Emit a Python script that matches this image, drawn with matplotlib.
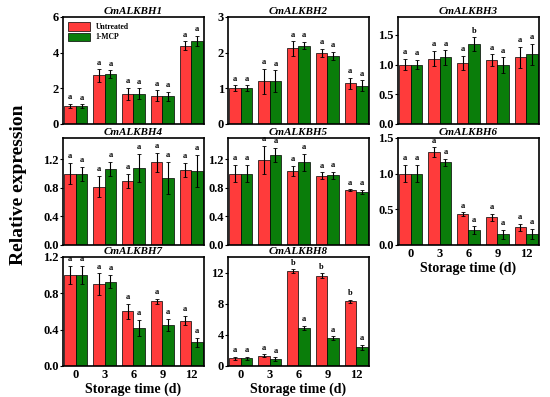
import numpy as np
import matplotlib
matplotlib.use("Agg")
import matplotlib.pyplot as plt

plt.rcParams['font.family'] = ['Liberation Serif', 'DejaVu Serif']
plt.rcParams['font.weight'] = 'bold'

# データ
days = ["0", "3", "6", "9", "12"]
genes = ["CmALKBH1", "CmALKBH2", "CmALKBH3", "CmALKBH4", "CmALKBH5",
         "CmALKBH6", "CmALKBH7", "CmALKBH8"]

untreated = [
    [1.0, 2.72, 1.68, 1.58, 4.38],
    [1.0, 1.20, 2.12, 1.99, 1.14],
    [1.0, 1.10, 1.03, 1.07, 1.12],
    [1.0, 0.82, 0.90, 1.16, 1.05],
    [1.0, 1.19, 1.04, 0.97, 0.77],
    [1.0, 1.30, 0.43, 0.39, 0.25],
    [1.0, 0.90, 0.60, 0.71, 0.50],
    [1.0, 1.30, 12.2, 11.6, 8.30],
]
mcp = [
    [1.0, 2.80, 1.70, 1.55, 4.65],
    [1.0, 1.20, 2.20, 1.91, 1.07],
    [1.0, 1.12, 1.34, 0.99, 1.17],
    [1.0, 1.07, 1.08, 0.94, 1.04],
    [1.0, 1.26, 1.16, 0.98, 0.74],
    [1.0, 1.16, 0.21, 0.15, 0.16],
    [1.0, 0.93, 0.42, 0.45, 0.26],
    [1.0, 0.90, 4.90, 3.60, 2.40],
]
untreated_err = [
    [0.12, 0.35, 0.35, 0.30, 0.25],
    [0.08, 0.35, 0.20, 0.12, 0.15],
    [0.10, 0.13, 0.12, 0.10, 0.18],
    [0.15, 0.15, 0.10, 0.13, 0.10],
    [0.12, 0.20, 0.07, 0.05, 0.01],
    [0.12, 0.07, 0.03, 0.05, 0.05],
    [0.10, 0.12, 0.08, 0.03, 0.05],
    [0.20, 0.20, 0.20, 0.30, 0.20],
]
mcp_err = [
    [0.10, 0.20, 0.30, 0.25, 0.30],
    [0.08, 0.30, 0.10, 0.12, 0.15],
    [0.08, 0.12, 0.12, 0.13, 0.18],
    [0.10, 0.10, 0.20, 0.23, 0.22],
    [0.12, 0.10, 0.12, 0.05, 0.03],
    [0.12, 0.05, 0.05, 0.06, 0.07],
    [0.10, 0.07, 0.09, 0.07, 0.05],
    [0.20, 0.20, 0.25, 0.20, 0.30],
]
untreated_letters = [list("aaaaa")] * 7 + [list("aabbb")]
mcp_letters = [list("aaaaa")] * 2 + [list("aabaa")] + [list("aaaaa")] * 5

ylims = [6, 3, 1.8, 1.5, 1.5, 1.5, 1.2, 14]
yticks = [
    [0, 2, 4, 6],
    [0, 1, 2, 3],
    [0.0, 0.5, 1.0, 1.5],
    [0.0, 0.4, 0.8, 1.2],
    [0.0, 0.4, 0.8, 1.2],
    [0.0, 0.5, 1.0, 1.5],
    [0.0, 0.4, 0.8, 1.2],
    [0, 4, 8, 12],
]
ytick_fmt = ["{:.0f}", "{:.0f}", "{:.1f}", "{:.1f}", "{:.1f}", "{:.1f}", "{:.1f}", "{:.0f}"]

red = "#FF3B3B"
green = "#0A7D0A"

# 図のレイアウト
fig = plt.figure(figsize=(5.5, 3.97), dpi=100)
col_left = [0.1145, 0.4145, 0.7236]
row_bottom = [0.6877, 0.3829, 0.0781]
row_height = [0.2695, 0.2695, 0.2746]
w = 0.2564
positions = [(0, 0), (0, 1), (0, 2), (1, 0), (1, 1), (1, 2), (2, 0), (2, 1)]
bottom_panels = [5, 6, 7]

x = np.arange(len(days))
bw = 0.4
for k, (r, c) in enumerate(positions):
    ax = fig.add_axes([col_left[c], row_bottom[r], w, row_height[r]])
    ax.bar(x - bw / 2, untreated[k], bw, yerr=untreated_err[k], color=red,
           edgecolor="black", linewidth=0.5, error_kw=dict(elinewidth=0.8, capsize=1.2, capthick=0.6),
           label="Untreated")
    ax.bar(x + bw / 2, mcp[k], bw, yerr=mcp_err[k], color=green,
           edgecolor="black", linewidth=0.5, error_kw=dict(elinewidth=0.8, capsize=1.2, capthick=0.6),
           label="1-MCP")
    off = ylims[k] * 0.025
    for i in range(len(days)):
        ax.text(x[i] - bw / 2, untreated[k][i] + untreated_err[k][i] + off, untreated_letters[k][i],
                ha="center", va="bottom", fontsize=6)
        ax.text(x[i] + bw / 2, mcp[k][i] + mcp_err[k][i] + off, mcp_letters[k][i],
                ha="center", va="bottom", fontsize=6)
    ax.set_xlim(-0.45, 4.45)
    ax.set_ylim(0, ylims[k])
    ax.set_yticks(yticks[k])
    ax.set_yticklabels([ytick_fmt[k].format(v) for v in yticks[k]], fontsize=9, fontweight="bold")
    ax.set_xticks(x)
    if k in bottom_panels:
        ax.set_xticklabels(days, fontsize=9, fontweight="bold")
        ax.set_xlabel("Storage time (d)", fontsize=10, fontweight="bold", labelpad=1)
    else:
        ax.set_xticklabels([])
    ax.tick_params(axis="x", length=0, pad=2)
    ax.tick_params(axis="y", length=2, width=0.8, pad=1)
    for s in ax.spines.values():
        s.set_linewidth(1.2)
    ax.set_title(genes[k], fontsize=8, fontweight="bold", fontstyle="italic", pad=2)
    if k == 0:
        ax.legend(loc="upper left", fontsize=5.5, frameon=False, handlelength=2.8,
                  handleheight=1.3, borderaxespad=0.3, labelspacing=0.2)

fig.text(0.033, 0.534, "Relative expression", rotation=90, ha="center", va="center",
         fontsize=14, fontweight="bold")

fig.savefig("out.png", dpi=100)
